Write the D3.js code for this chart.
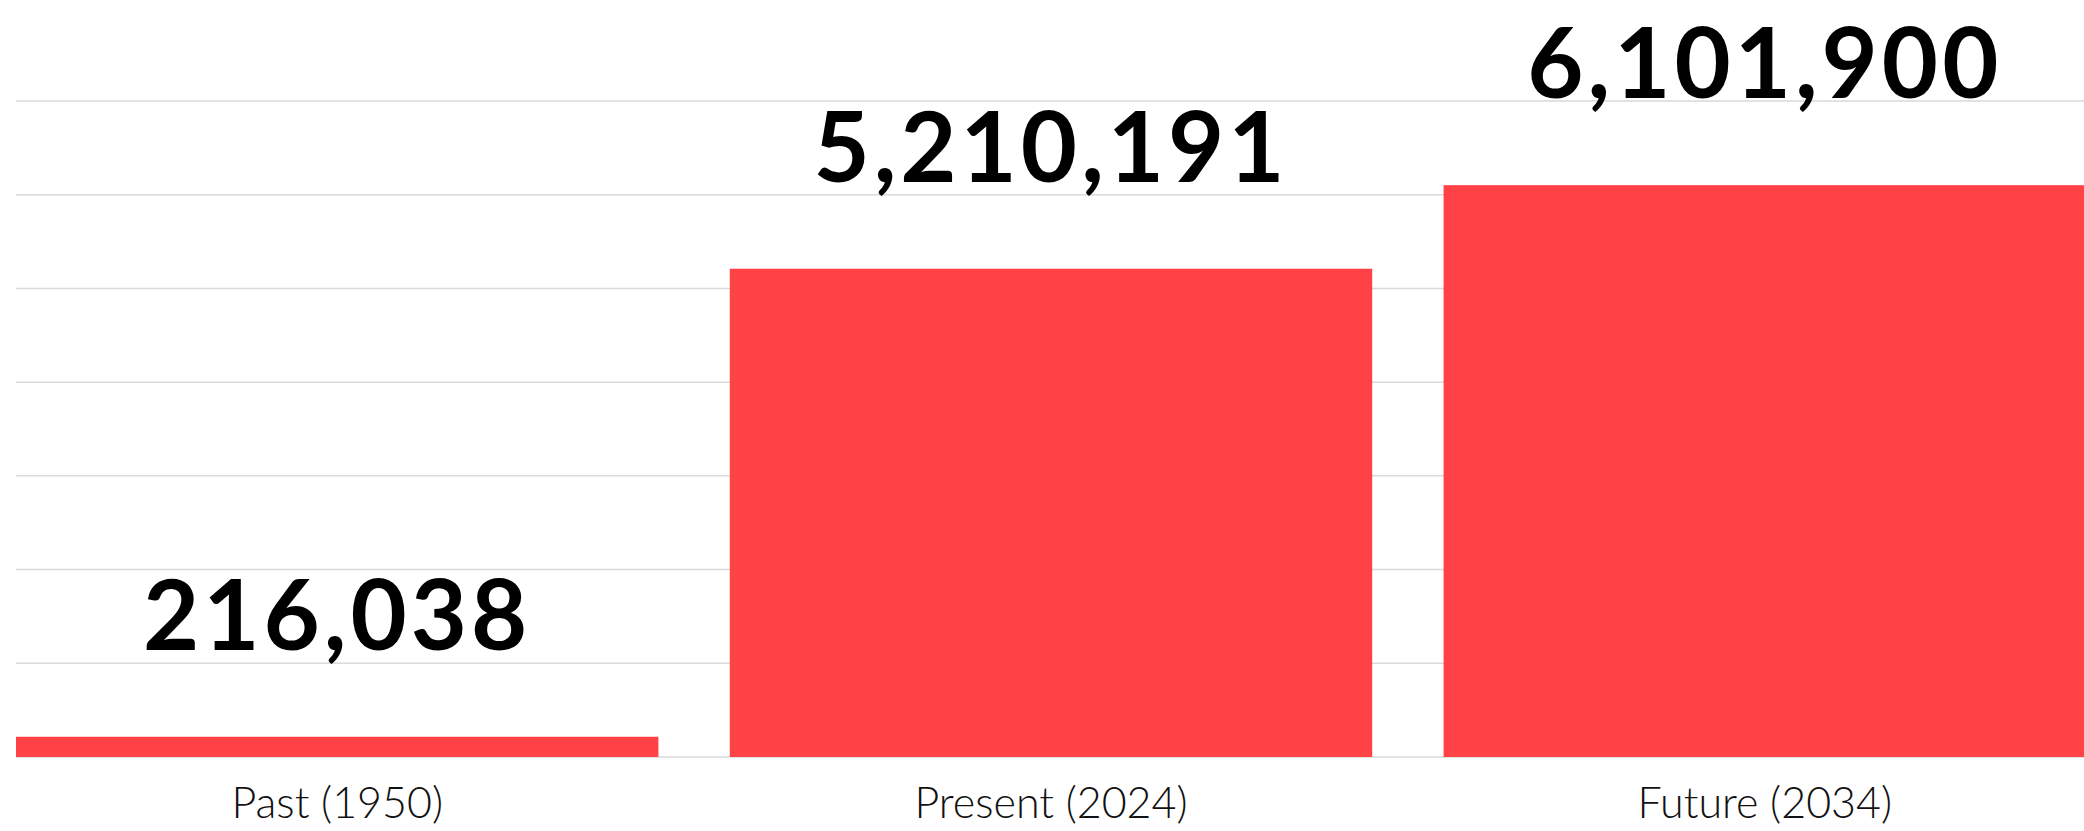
<!DOCTYPE html>
<html>
<head>
<meta charset="utf-8">
<script src="https://cdn.jsdelivr.net/npm/d3@7"></script>
<style>
  html, body { margin: 0; padding: 0; background: #fff; }
  .chart { width: 2084px; height: 831px; }
</style>
</head>
<body>
<div class="chart"></div>
<script>
const categories = ['Past (1950)', 'Present (2024)', 'Future (2034)'];
const values = [216038, 5210191, 6101900];
const gridValues = [0, 1000000, 2000000, 3000000, 4000000, 5000000, 6000000, 7000000];

const config = {
  width: 2084,
  height: 831,
  left: 16,
  right: 2086,
  baseline: 757,
  top: 101,
  barColor: '#ff4245',
  gridColor: '#d9d9d9'
};

const svg = d3.select('.chart')
  .append('svg')
  .attr('width', config.width)
  .attr('height', config.height)
  .attr('viewBox', `0 0 ${config.width} ${config.height}`);

const x = d3.scaleBand()
  .domain(categories)
  .range([config.left, config.right])
  .paddingInner(0.1)
  .paddingOuter(0);

const y = d3.scaleLinear()
  .domain([0, 7000000])
  .range([config.baseline, config.top]);

// gridlines
svg.append('g')
  .selectAll('line')
  .data(gridValues)
  .enter()
  .append('line')
  .attr('x1', config.left)
  .attr('x2', config.width)
  .attr('y1', d => y(d))
  .attr('y2', d => y(d))
  .attr('stroke', config.gridColor)
  .attr('stroke-width', 1.5);

// bars
svg.append('g')
  .selectAll('rect')
  .data(values)
  .enter()
  .append('rect')
  .attr('x', (d, i) => x(categories[i]))
  .attr('y', d => y(d))
  .attr('width', x.bandwidth())
  .attr('height', d => y(0) - y(d))
  .attr('fill', config.barColor);

// value labels
svg.append('g')
  .selectAll('text')
  .data(values)
  .enter()
  .append('text')
  .attr('x', (d, i) => x(categories[i]) + x.bandwidth() / 2)
  .attr('y', d => y(d) - 87)
  .attr('text-anchor', 'middle')
  .attr('font-family', 'Lato, sans-serif')
  .attr('font-weight', 700)
  .attr('font-size', 97)
  .attr('letter-spacing', 4)
  .attr('fill', '#000')
  .text(d3.format(','));

// category labels
svg.append('g')
  .selectAll('text')
  .data(categories)
  .enter()
  .append('text')
  .attr('x', d => x(d) + x.bandwidth() / 2)
  .attr('y', 818)
  .attr('text-anchor', 'middle')
  .attr('font-family', 'Lato, sans-serif')
  .attr('font-weight', 300)
  .attr('font-size', 43)
  .attr('fill', '#111')
  .text(d => d);
</script>
</body>
</html>
